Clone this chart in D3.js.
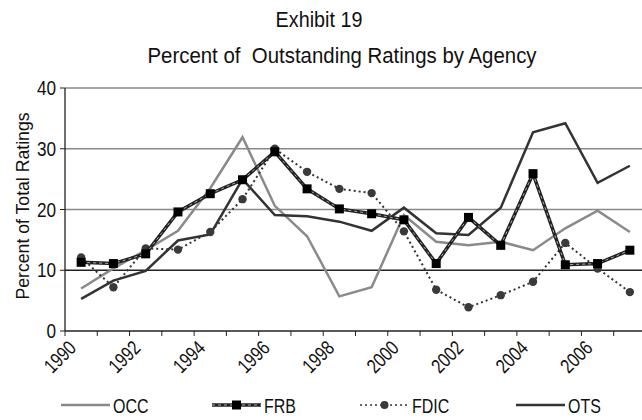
<!DOCTYPE html>
<html><head><meta charset="utf-8">
<script src="https://cdn.jsdelivr.net/npm/d3@7"></script>
<style>
html,body{margin:0;padding:0;background:#fff;}
text{font-family:"Liberation Sans",Arial,sans-serif;fill:#111;}
</style></head>
<body><svg id="c" width="642" height="420"></svg>
<script>
const years = [1990,1991,1992,1993,1994,1995,1996,1997,1998,1999,2000,2001,2002,2003,2004,2005,2006,2007];
const tickYears = [1990,1992,1994,1996,1998,2000,2002,2004,2006];
const yTicks = [0,10,20,30,40];
const occ  = [7.0,10.3,13.3,16.5,23.5,31.9,20.6,15.6,5.7,7.2,19.1,14.7,14.1,14.7,13.3,16.9,19.8,16.3];
const frb  = [11.3,11.1,12.7,19.6,22.6,24.9,29.5,23.4,20.1,19.3,18.3,11.1,18.7,14.1,25.9,10.9,11.1,13.3];
const fdic = [12.1,7.2,13.6,13.4,16.3,21.7,30.0,26.2,23.4,22.7,16.4,6.8,3.9,5.9,8.1,14.5,10.3,6.4];
const ots  = [5.3,8.3,9.9,14.9,15.9,25.0,19.1,18.9,18.0,16.5,20.3,16.1,15.8,20.3,32.7,34.2,24.4,27.2];
const seriesNames = ["OCC","FRB","FDIC","OTS"];

const svg = d3.select("#c");
const x = d3.scaleBand().domain(years).range([65, 646]).padding(0);
const y = d3.scaleLinear().domain([0,40]).range([331, 88]);
const cx = d => x(d) + x.bandwidth()/2;

function txt(sel, px, py, s, size, sx, anchor, rot, dy){
  return sel.append("text")
    .attr("transform",`translate(${px},${py}) rotate(${rot||0}) scale(${sx},1)`)
    .attr("text-anchor",anchor||"start").attr("dy",dy||0)
    .attr("font-size",size).attr("xml:space","preserve").text(s);
}

// title
txt(svg, 319, 26.5, "Exhibit 19", 21.5, 0.92, "middle");
txt(svg, 342, 63, "Percent of  Outstanding Ratings by Agency", 21.5, 0.95, "middle");

// gridlines
svg.append("g").selectAll("line").data(yTicks.filter(t=>t>0)).join("line")
  .attr("x1",65).attr("x2",642).attr("y1",d=>y(d)).attr("y2",d=>y(d))
  .attr("stroke",d=>d===10?"#222":"#888").attr("stroke-width",1.3);

// y axis
const ya = svg.append("g");
ya.append("line").attr("x1",65).attr("x2",65).attr("y1",y(40)).attr("y2",y(0)).attr("stroke","#222").attr("stroke-width",1.3);
ya.selectAll("line.t").data(yTicks).join("line").attr("class","t")
  .attr("x1",60).attr("x2",65).attr("y1",d=>y(d)).attr("y2",d=>y(d)).attr("stroke","#222");
yTicks.forEach(t=>txt(ya, 56, y(t), String(t), 20, 0.86, "end", 0, "0.36em"));

// x axis
const xa = svg.append("g");
xa.append("line").attr("x1",65).attr("x2",642).attr("y1",y(0)).attr("y2",y(0)).attr("stroke","#222").attr("stroke-width",1.3);
xa.selectAll("line.t").data(years).join("line").attr("class","t")
  .attr("x1",d=>x(d)).attr("x2",d=>x(d)).attr("y1",y(0)).attr("y2",y(0)+5).attr("stroke","#222");
tickYears.forEach(t=>txt(xa, cx(t)-14, y(0)+8, String(t), 20, 0.8, "end", -45, "0.72em"));

// y title
txt(svg, 22, 206, "Percent of Total Ratings", 19, 0.93, "middle", -90, "0.35em");

const line = d3.line().x((d,i)=>cx(years[i])).y(d=>y(d));
const g = svg.append("g");
g.append("path").datum(occ).attr("d",line).attr("fill","none").attr("stroke","#8a8a8a").attr("stroke-width",2.5);
g.append("path").datum(ots).attr("d",line).attr("fill","none").attr("stroke","#333").attr("stroke-width",2.5);
g.append("path").datum(fdic).attr("d",line).attr("fill","none").attr("stroke","#333").attr("stroke-width",2).attr("stroke-dasharray","2,3");
g.selectAll("circle.f").data(fdic).join("circle").attr("class","f")
  .attr("cx",(d,i)=>cx(years[i])).attr("cy",d=>y(d)).attr("r",4.2).attr("fill","#3a3a3a");
g.append("path").datum(frb).attr("d",line).attr("fill","none").attr("stroke","#222").attr("stroke-width",3.5);
g.append("path").datum(frb).attr("d",line).attr("fill","none").attr("stroke","#aaa").attr("stroke-width",1).attr("stroke-dasharray","3,3");
g.selectAll("rect.f").data(frb).join("rect").attr("class","f")
  .attr("x",(d,i)=>cx(years[i])-4.5).attr("y",d=>y(d)-4.5).attr("width",9).attr("height",9).attr("fill","#000");

// legend
const lx = [61,212,360,516];
const ly = 405;
const lg = svg.append("g");
seriesNames.forEach((n,i)=>{
  const x0 = lx[i], x1 = lx[i]+49;
  if(n==="OCC"){lg.append("line").attr("x1",x0).attr("x2",x1).attr("y1",ly).attr("y2",ly).attr("stroke","#8a8a8a").attr("stroke-width",2.5);}
  if(n==="OTS"){lg.append("line").attr("x1",x0).attr("x2",x1).attr("y1",ly).attr("y2",ly).attr("stroke","#333").attr("stroke-width",2.5);}
  if(n==="FDIC"){
    lg.append("line").attr("x1",x0).attr("x2",x1).attr("y1",ly).attr("y2",ly).attr("stroke","#333").attr("stroke-width",1.5).attr("stroke-dasharray","2,3");
    lg.append("circle").attr("cx",(x0+x1)/2).attr("cy",ly).attr("r",4).attr("fill","#3a3a3a");
  }
  if(n==="FRB"){
    lg.append("line").attr("x1",x0).attr("x2",x1).attr("y1",ly).attr("y2",ly).attr("stroke","#222").attr("stroke-width",3.5);
    lg.append("line").attr("x1",x0).attr("x2",x1).attr("y1",ly).attr("y2",ly).attr("stroke","#aaa").attr("stroke-width",1).attr("stroke-dasharray","3,3");
    lg.append("rect").attr("x",(x0+x1)/2-4.5).attr("y",ly-4.5).attr("width",9).attr("height",9).attr("fill","#000");
  }
  txt(lg, x1+3, 413, n, 20.5, 0.78, "start");
});
</script></body></html>
